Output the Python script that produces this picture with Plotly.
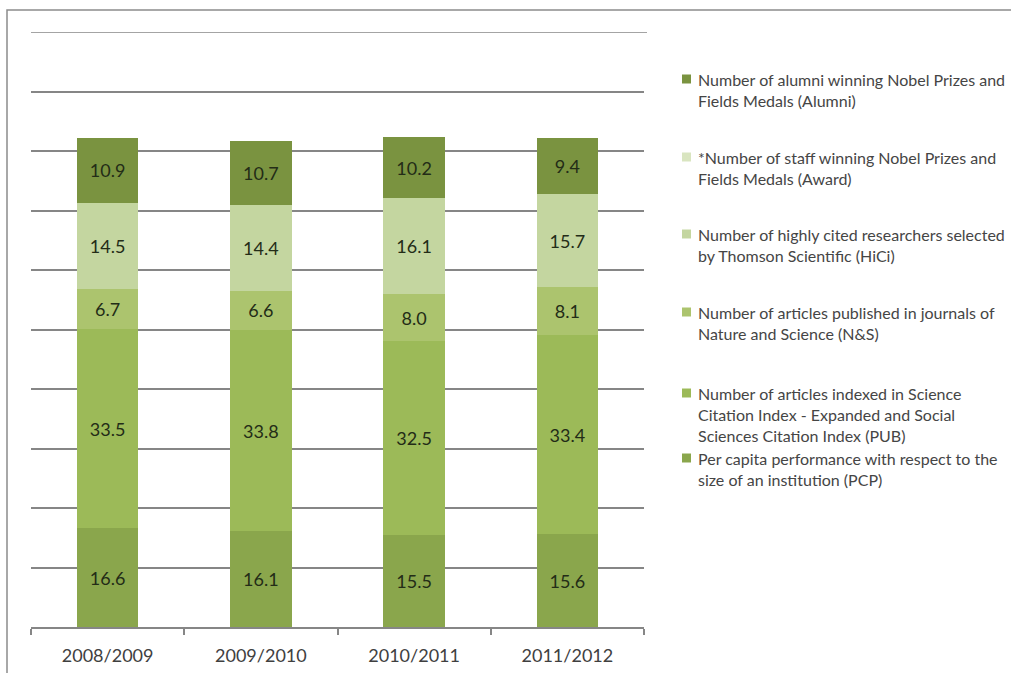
import plotly.graph_objects as go

# Academic years shown on the category axis
years = ["2008/2009", "2009/2010", "2010/2011", "2011/2012"]

# Indicator scores per year (stacked bottom to top)
pcp = [16.6, 16.1, 15.5, 15.6]
pub = [33.5, 33.8, 32.5, 33.4]
ns = [6.7, 6.6, 8.0, 8.1]
hici = [14.5, 14.4, 16.1, 15.7]
alumni = [10.9, 10.7, 10.2, 9.4]

# Legend entries, top to bottom as listed beside the chart
legend_labels = [
    "Number of alumni winning Nobel Prizes and<br>Fields Medals (Alumni)",
    "*Number of staff winning Nobel Prizes and<br>Fields Medals (Award)",
    "Number of highly cited researchers selected<br>by Thomson Scientific (HiCi)",
    "Number of articles published in journals of<br>Nature and Science (N&S)",
    "Number of articles indexed in Science<br>Citation Index - Expanded and Social<br>Sciences Citation Index (PUB)",
    "Per capita performance with respect to the<br>size of an institution (PCP)",
]

C_ALUMNI = "#7A9340"
C_AWARD = "#D9E5C0"
C_HICI = "#C4D6A0"
C_NS = "#ACC46E"
C_PUB = "#9CBA58"
C_PCP = "#8AA64C"
legend_colors = [C_ALUMNI, C_AWARD, C_HICI, C_NS, C_PUB, C_PCP]

GRID = "#868686"
W, H = 1011, 673
L, R, T, B = 31, 644, 32, 627  # plot area in pixels


def px_x(px):
    return (px - L) / (R - L)


def px_y(py):
    return (B - py) / (B - T)


fig = go.Figure()
for vals, col in [(pcp, C_PCP), (pub, C_PUB), (ns, C_NS), (hici, C_HICI), (alumni, C_ALUMNI)]:
    fig.add_trace(go.Bar(
        x=years, y=vals,
        marker=dict(color=col, line=dict(width=0)),
        text=[f"{v:.1f}" for v in vals],
        textposition="inside",
        insidetextanchor="middle",
        textangle=0,
        textfont=dict(family="Lato", size=18, color="#232c17"),
        showlegend=False,
        hoverinfo="skip",
    ))

shapes = [
    # outer chart frame
    dict(type="rect", xref="paper", yref="paper",
         x0=px_x(7), x1=px_x(1040), y0=px_y(10), y1=px_y(720),
         line=dict(color="#8c8c8c", width=1.5), fillcolor="rgba(0,0,0,0)", layer="below"),
    # top gridline at the upper edge of the value range
    dict(type="line", xref="paper", yref="y", x0=0, x1=px_x(647), y0=100, y1=100,
         line=dict(color=GRID, width=1.5), layer="below"),
]
annotations = []

# legend: first-line centre of each entry
first_line_y = [79, 157, 234, 312, 393, 458]
line_h = 21.5
for lab, col, y0 in zip(legend_labels, legend_colors, first_line_y):
    n = lab.count("<br>") + 1
    shapes.append(dict(type="rect", xref="paper", yref="paper",
                       x0=px_x(682), x1=px_x(691), y0=px_y(y0 - 4.5), y1=px_y(y0 + 4.5),
                       line=dict(width=0), fillcolor=col))
    annotations.append(dict(
        xref="paper", yref="paper", x=px_x(696), y=px_y(y0 + (n - 1) * line_h / 2),
        xanchor="left", yanchor="middle", align="left", showarrow=False,
        text=lab, font=dict(family="Lato", size=16, color="#454545"),
    ))

fig.update_layout(
    barmode="stack",
    bargap=0.6,
    width=W, height=H,
    margin=dict(l=L, r=W - R, t=T, b=H - B),
    paper_bgcolor="white",
    plot_bgcolor="white",
    shapes=shapes,
    annotations=annotations,
    xaxis=dict(
        showline=True, linecolor=GRID, linewidth=1.5,
        ticks="outside", tickson="boundaries", ticklen=6, tickcolor=GRID, tickwidth=1.5,
        ticklabelstandoff=12, automargin=False,
        tickfont=dict(family="Lato", size=18, color="#404040"),
        showgrid=False,
    ),
    yaxis=dict(
        range=[0, 100], dtick=10, showticklabels=False, automargin=False,
        showgrid=True, gridcolor=GRID, gridwidth=1.5,
        zeroline=False, showline=False, ticks="",
    ),
)

fig.write_html("out.html")
